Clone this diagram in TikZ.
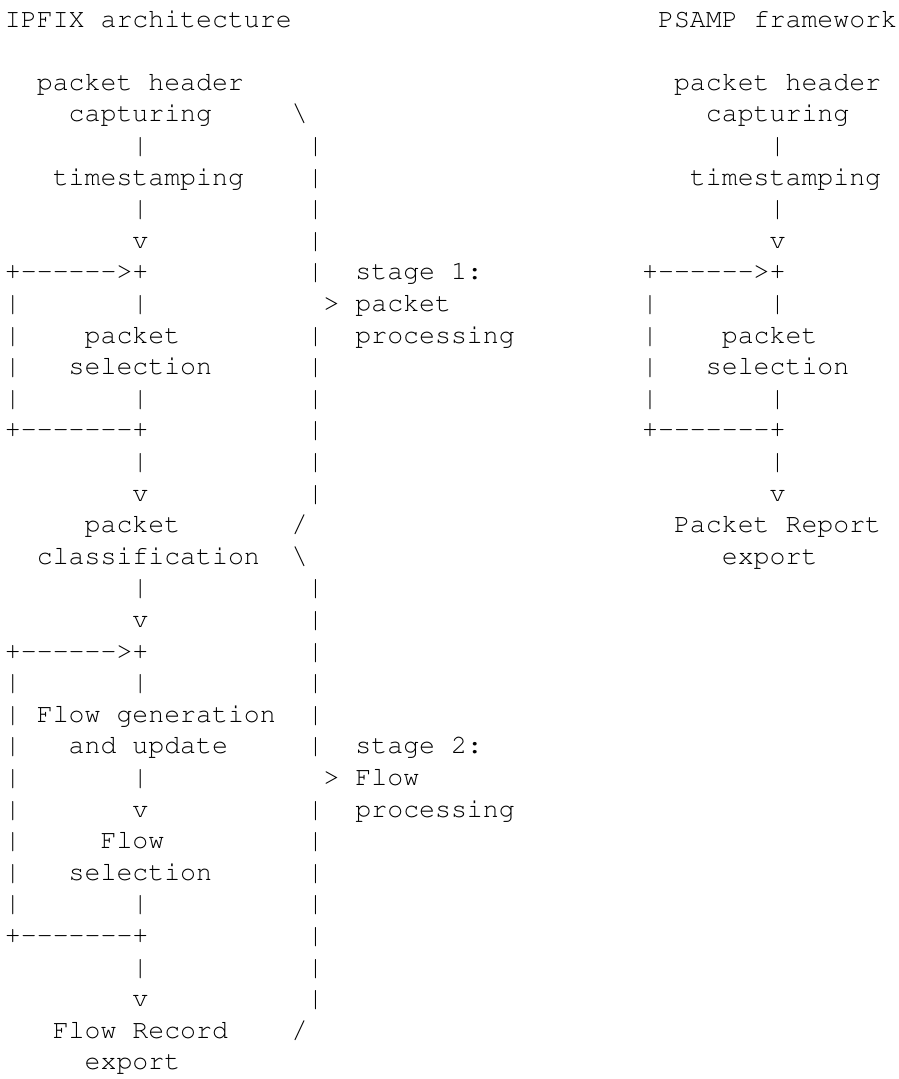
\documentclass[tikz,border=0pt]{standalone}
\usepackage[T1]{fontenc}
\usepackage{courier}
\usepackage{tikz}

% blank columns of the fixed-width grid
\newcommand\blk[1]{\hspace*{\dimexpr 0.6em*#1\relax}}

\begin{document}
\begin{tikzpicture}[
    x=15.93pt, y=-31.6pt,
    ascrow/.style={anchor=base west, inner sep=0pt, outer sep=0pt, font=\fontsize{26.55pt}{31.6pt}\ttfamily}
]
    \useasboundingbox (-5pt,27pt) rectangle (893pt,-1052pt);

    % Headings
    \node[ascrow] (r00) at (0,0) {IPFIX architecture\blk{23}PSAMP framework};

    % Stage 1: packet processing
    \node[ascrow] (r02) at (0,2) {\blk{2}packet header\blk{27}packet header};
    \node[ascrow] (r03) at (0,3) {\blk{4}capturing\blk{5}\textbackslash\blk{25}capturing};
    \node[ascrow] (r04) at (0,4) {\blk{8}|\blk{10}|\blk{28}|};
    \node[ascrow] (r05) at (0,5) {\blk{3}timestamping\blk{4}|\blk{23}timestamping};
    \node[ascrow] (r06) at (0,6) {\blk{8}|\blk{10}|\blk{28}|};
    \node[ascrow] (r07) at (0,7) {\blk{8}v\blk{10}|\blk{28}v};
    \node[ascrow] (r08) at (0,8) {+{-}{-}{-}{-}{-}{-}>+\blk{10}|\blk{2}stage 1:\blk{10}+{-}{-}{-}{-}{-}{-}>+};
    \node[ascrow] (r09) at (0,9) {|\blk{7}|\blk{11}>\blk{1}packet\blk{12}|\blk{7}|};
    \node[ascrow] (r10) at (0,10) {|\blk{4}packet\blk{8}|\blk{2}processing\blk{8}|\blk{4}packet};
    \node[ascrow] (r11) at (0,11) {|\blk{3}selection\blk{6}|\blk{20}|\blk{3}selection};
    \node[ascrow] (r12) at (0,12) {|\blk{7}|\blk{10}|\blk{20}|\blk{7}|};
    \node[ascrow] (r13) at (0,13) {+{-}{-}{-}{-}{-}{-}{-}+\blk{10}|\blk{20}+{-}{-}{-}{-}{-}{-}{-}+};
    \node[ascrow] (r14) at (0,14) {\blk{8}|\blk{10}|\blk{28}|};
    \node[ascrow] (r15) at (0,15) {\blk{8}v\blk{10}|\blk{28}v};
    \node[ascrow] (r16) at (0,16) {\blk{5}packet\blk{7}/\blk{23}Packet Report};
    \node[ascrow] (r17) at (0,17) {\blk{2}classification\blk{2}\textbackslash\blk{26}export};

    % Stage 2: Flow processing
    \node[ascrow] (r18) at (0,18) {\blk{8}|\blk{10}|};
    \node[ascrow] (r19) at (0,19) {\blk{8}v\blk{10}|};
    \node[ascrow] (r20) at (0,20) {+{-}{-}{-}{-}{-}{-}>+\blk{10}|};
    \node[ascrow] (r21) at (0,21) {|\blk{7}|\blk{10}|};
    \node[ascrow] (r22) at (0,22) {|\blk{1}Flow generation\blk{2}|};
    \node[ascrow] (r23) at (0,23) {|\blk{3}and update\blk{5}|\blk{2}stage 2:};
    \node[ascrow] (r24) at (0,24) {|\blk{7}|\blk{11}>\blk{1}Flow};
    \node[ascrow] (r25) at (0,25) {|\blk{7}v\blk{10}|\blk{2}processing};
    \node[ascrow] (r26) at (0,26) {|\blk{5}Flow\blk{9}|};
    \node[ascrow] (r27) at (0,27) {|\blk{3}selection\blk{6}|};
    \node[ascrow] (r28) at (0,28) {|\blk{7}|\blk{10}|};
    \node[ascrow] (r29) at (0,29) {+{-}{-}{-}{-}{-}{-}{-}+\blk{10}|};
    \node[ascrow] (r30) at (0,30) {\blk{8}|\blk{10}|};
    \node[ascrow] (r31) at (0,31) {\blk{8}v\blk{10}|};
    \node[ascrow] (r32) at (0,32) {\blk{3}Flow Record\blk{4}/};
    \node[ascrow] (r33) at (0,33) {\blk{5}export};
\end{tikzpicture}
\end{document}
